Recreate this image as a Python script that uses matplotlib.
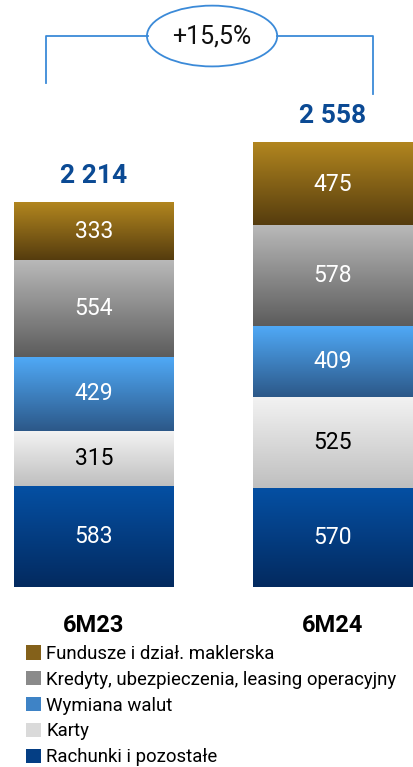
import matplotlib
matplotlib.use('Agg')
import matplotlib.pyplot as plt
import numpy as np
from matplotlib.colors import to_rgb
from matplotlib.patches import Ellipse, Patch

# Dane: prowizje wg kategorii (od dołu słupka do góry)
periods = ['6M23', '6M24']
categories = ['Rachunki i pozostałe', 'Karty', 'Wymiana walut',
              'Kredyty, ubezpieczenia, leasing operacyjny', 'Fundusze i dział. maklerska']
rachunki = [583, 570]
karty = [315, 525]
wymiana = [429, 409]
kredyty = [554, 578]
fundusze = [333, 475]
totals = [2214, 2558]
change_label = '+15,5%'

series = [rachunki, karty, wymiana, kredyty, fundusze]
top_colors = ['#0550a4', '#f3f3f3', '#50aaf8', '#b9b9b9', '#b2861f']
bottom_colors = ['#032a5f', '#bfbfbf', '#2c5888', '#5c5c5c', '#553c0e']
mid_colors = ['#043e84', '#dadada', '#3e83c6', '#8a8a8a', '#84611a']
text_colors = ['white', 'black', 'white', 'white', 'white']

num_font = 'Roboto'
blue_txt = '#0b4a94'
line_blue = '#3b8ad8'

W, H = 413, 767
base_px = 587          # poziom zera (piksele od góry)
px_per_unit = 0.1737

fig = plt.figure(figsize=(W / 100, H / 100), dpi=100)
ax = fig.add_axes([0, (H - base_px) / H, 1, base_px / H])
ax.set_axis_off()

x = np.arange(len(periods))
width = 160 / 239


def gradient(c_top, c_bot, n=256):
    t = np.linspace(0, 1, n)[:, None]
    a, b = np.array(to_rgb(c_top)), np.array(to_rgb(c_bot))
    img = a[None, :] * (1 - t) + b[None, :] * t
    return img[:, None, :]


bottoms = np.zeros(len(periods))
for vals, ct, cb, tc in zip(series, top_colors, bottom_colors, text_colors):
    bars = ax.bar(x, vals, width=width, bottom=bottoms, color='none', linewidth=0)
    for rect, v in zip(bars, vals):
        x0, y0 = rect.get_x(), rect.get_y()
        w, h = rect.get_width(), rect.get_height()
        ax.imshow(gradient(ct, cb), extent=[x0, x0 + w, y0, y0 + h],
                  aspect='auto', origin='upper', interpolation='bilinear')
        ax.text(x0 + w / 2, y0 + h / 2, str(v), ha='center', va='center',
                color=tc, fontsize=16.5, family=num_font)
    bottoms = bottoms + np.array(vals)

# sumy nad słupkami
for xi, t in zip(x, totals):
    ax.text(xi, t + 155, f'{t:,}'.replace(',', ' '), ha='center', va='center',
            color=blue_txt, fontsize=19, fontweight='bold', family=num_font)

# podpisy okresów
for xi, p in zip(x, periods):
    ax.text(xi, -222, p, ha='center', va='center', color='black',
            fontsize=17, fontweight='bold', family=num_font)

# klamra ze zmianą r/r
y_top = 3172
ax.plot([-0.2, -0.2, 0.494 - 0.27], [2900, y_top, y_top], color=line_blue, lw=1.3,
        clip_on=False)
ax.plot([0.494 + 0.27, 1.167, 1.167], [y_top, y_top, 2838], color=line_blue, lw=1.3,
        clip_on=False)
ax.add_patch(Ellipse((0.494, y_top), 0.545, 350, facecolor='white',
                     edgecolor=line_blue, lw=1.3, clip_on=False))
ax.text(0.494, y_top, change_label, ha='center', va='center', fontsize=18,
        family=num_font, color='#111111')

ax.set_xlim(-94 / 239, 1 + 80 / 239)
ax.set_ylim(0, base_px / px_per_unit)

handles = [Patch(facecolor=c, edgecolor='none') for c in mid_colors]
fig.legend(handles[::-1], categories[::-1], loc='upper left',
           bbox_to_anchor=(26 / W, 1 - 645 / H), frameon=False,
           handlelength=0.8, handleheight=0.8, handletextpad=0.3,
           labelspacing=0.42, borderpad=0, borderaxespad=0,
           prop={'family': num_font, 'size': 13.4})

fig.savefig('out.png', dpi=100)
